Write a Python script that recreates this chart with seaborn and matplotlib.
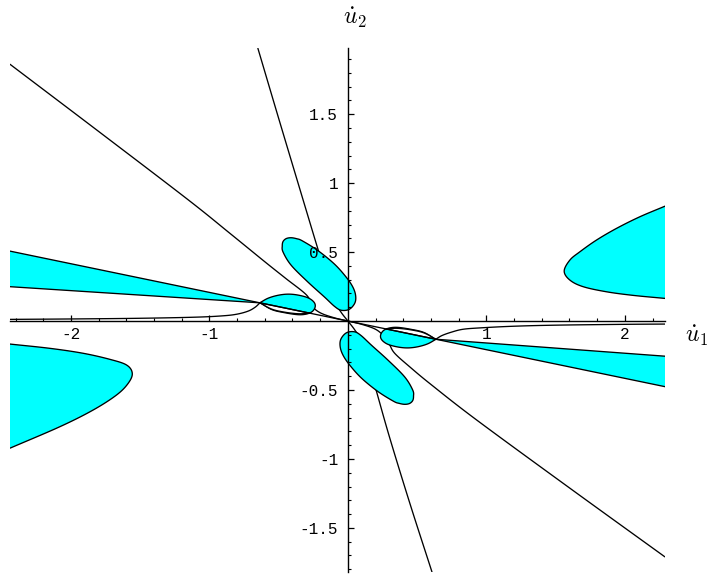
import numpy as np
import matplotlib
matplotlib.use("Agg")
import matplotlib.pyplot as plt
import seaborn as sns

sns.set_theme(style="white")
plt.rcParams['font.family'] = ['Liberation Mono', 'DejaVu Sans']
plt.rcParams['mathtext.fontset'] = 'cm'

CYAN = "#00FFFF"

# ---------------- data ----------------
# upper-right parabola-like region
rp_x = [2.29, 2.108, 1.940, 1.795, 1.675, 1.603, 1.562, 1.603, 1.699, 1.868, 2.060, 2.29]
rp_y = [0.833, 0.756, 0.672, 0.587, 0.502, 0.442, 0.362, 0.297, 0.249, 0.212, 0.186, 0.164]
# lower-left parabola-like region
lp_x = [-2.44, -2.152, -1.911, -1.718, -1.598, -1.557, -1.586, -1.670, -1.839, -2.079, -2.44]
lp_y = [-0.167, -0.198, -0.234, -0.278, -0.319, -0.379, -0.451, -0.536, -0.645, -0.766, -0.922]

# upper ellipse-like lobe (closed)
ue_x = [-0.474, -0.468, -0.445, -0.410, -0.370, -0.330, -0.218, -0.098, -0.012, 0.036,
        0.056, 0.050, 0.010, -0.047, -0.095, -0.170, -0.290, -0.410, -0.468]
ue_y = [0.545, 0.577, 0.598, 0.604, 0.597, 0.582, 0.512, 0.414, 0.318, 0.246,
        0.184, 0.130, 0.085, 0.078, 0.105, 0.175, 0.284, 0.405, 0.500]
# lower ellipse-like lobe (closed)
le_x = [0.474, 0.468, 0.445, 0.410, 0.370, 0.330, 0.218, 0.098, 0.012, -0.036,
        -0.056, -0.050, -0.010, 0.047, 0.095, 0.170, 0.290, 0.410, 0.468]
le_y = [-0.545, -0.577, -0.598, -0.604, -0.597, -0.582, -0.512, -0.414, -0.318, -0.246,
        -0.184, -0.130, -0.085, -0.078, -0.105, -0.175, -0.284, -0.405, -0.500]

# long wedges
wl_x = [-2.44, -0.635, -2.44]
wl_y = [0.507, 0.132, 0.249]
wr_x = [2.29, 0.635, 2.29]
wr_y = [-0.476, -0.132, -0.255]

# small lobes (start and end at the pointed tip)
sl_x = [-0.635, -0.575, -0.503, -0.431, -0.359, -0.287, -0.245, -0.236, -0.256, -0.298,
        -0.359, -0.455, -0.549, -0.635]
sl_y = [0.133, 0.166, 0.187, 0.195, 0.188, 0.168, 0.137, 0.104, 0.070, 0.051,
        0.046, 0.060, 0.083, 0.133]
sr_x = [0.635, 0.575, 0.503, 0.431, 0.359, 0.287, 0.245, 0.236, 0.256, 0.298,
        0.359, 0.455, 0.549, 0.635]
sr_y = [-0.133, -0.166, -0.187, -0.195, -0.188, -0.168, -0.137, -0.104, -0.070, -0.051,
        -0.046, -0.060, -0.083, -0.133]

# white lenses inside the small lobes (lower edge, right corner back to tip)
nl_x = [-0.274, -0.30, -0.361, -0.455, -0.549, -0.635]
nl_y = [0.057, 0.055, 0.053, 0.064, 0.086, 0.132]
nr_x = [0.274, 0.30, 0.361, 0.455, 0.549, 0.635]
nr_y = [-0.057, -0.055, -0.053, -0.064, -0.086, -0.132]

# curves
l_x = [-2.44, 2.29]
l_y = [0.507, -0.476]
bl_x = [-2.44, -0.635]
bl_y = [0.249, 0.132]
br_x = [2.29, 0.635]
br_y = [-0.255, -0.132]
cl_x = [-2.44, -2.0, -1.5, -1.1, -0.9, -0.8, -0.72, -0.67, -0.635]
cl_y = [0.012, 0.015, 0.02, 0.028, 0.038, 0.05, 0.072, 0.1, 0.132]
cr_x = [2.29, 2.0, 1.5, 1.19, 0.95, 0.83, 0.75, 0.68, 0.635]
cr_y = [-0.022, -0.024, -0.03, -0.038, -0.05, -0.06, -0.08, -0.105, -0.132]
su_x = [-0.650, -0.5, -0.323, -0.214, -0.15, -0.1, -0.05, 0.0]
su_y = [1.978, 1.47, 0.877, 0.514, 0.31, 0.15, 0.065, 0.0]
sd_x = [0.607, 0.45, 0.303, 0.207, 0.15, 0.1, 0.05, 0.0]
sd_y = [-1.819, -1.33, -0.850, -0.512, -0.31, -0.15, -0.065, 0.0]
du_x = [-2.44, -1.8, -1.157, -0.852, -0.6, -0.45, -0.298, -0.26, -0.2, -0.1, 0.0]
du_y = [1.862, 1.375, 0.882, 0.636, 0.43, 0.31, 0.188, 0.11, 0.06, 0.024, 0.0]
dd_x = [2.289, 1.6, 0.929, 0.6, 0.45, 0.339, 0.30, 0.26, 0.2, 0.1, 0.0]
dd_y = [-1.710, -1.21, -0.717, -0.46, -0.335, -0.235, -0.17, -0.11, -0.06, -0.024, 0.0]

x_major = [-2, -1, 1, 2]
x_labels = ["-2", "-1", "1", "2"]
y_major = [-1.5, -1, -0.5, 0.5, 1, 1.5]
y_labels = ["-1.5", "-1", "-0.5", "0.5", "1", "1.5"]


def smooth(xs, ys, n=10, closed=False):
    """Catmull-Rom rendering of a curve through the given points."""
    P = np.column_stack([xs, ys]).astype(float)
    if closed:
        pts = np.vstack([P[-1], P, P[0], P[1]])
    else:
        pts = np.vstack([2 * P[0] - P[1], P, 2 * P[-1] - P[-2]])
    out = []
    t = np.linspace(0, 1, n, endpoint=False)[:, None]
    for i in range(1, len(pts) - 2):
        p0, p1, p2, p3 = pts[i - 1], pts[i], pts[i + 1], pts[i + 2]
        seg = 0.5 * ((2 * p1) + (-p0 + p2) * t + (2 * p0 - 5 * p1 + 4 * p2 - p3) * t ** 2
                     + (-p0 + 3 * p1 - 3 * p2 + p3) * t ** 3)
        out.append(seg)
    out.append(pts[-2][None])
    Q = np.vstack(out)
    return Q[:, 0], Q[:, 1]


# ---------------- figure ----------------
fig = plt.figure(figsize=(7.09, 5.74), dpi=100)
ax = fig.add_axes([10 / 709, 2 / 574, 655 / 709, 524 / 574])
ax.set_xlim(-2.44, 2.29)
ax.set_ylim(-1.82, 1.98)

lw = 0.95


def line(xs, ys, z, sm=True):
    if sm and len(xs) > 2:
        xs, ys = smooth(xs, ys)
    sns.lineplot(x=xs, y=ys, ax=ax, color="black", lw=lw, sort=False,
                 estimator=None, zorder=z, legend=False)


# background curves (hidden under fills)
line(su_x, su_y, 1)
line(sd_x, sd_y, 1)
line(du_x, du_y, 1)
line(dd_x, dd_y, 1)

# open regions (cut by the frame)
for xs, ys, sm in [(rp_x, rp_y, True), (lp_x, lp_y, True), (wl_x, wl_y, False), (wr_x, wr_y, False)]:
    if sm:
        xs, ys = smooth(xs, ys)
    ax.fill(xs, ys, color=CYAN, lw=0, zorder=2)
line(rp_x, rp_y, 3)
line(lp_x, lp_y, 3)
line(bl_x, bl_y, 3)
line(br_x, br_y, 3)

# closed lobes
for xs, ys in [(ue_x, ue_y), (le_x, le_y)]:
    sx, sy = smooth(xs, ys, closed=True)
    ax.fill(sx, sy, facecolor=CYAN, edgecolor="black", lw=lw, zorder=2.5)
for xs, ys in [(sl_x, sl_y), (sr_x, sr_y)]:
    sx, sy = smooth(xs, ys)
    ax.fill(sx, sy, facecolor=CYAN, edgecolor="black", lw=lw, zorder=2.5)
for xs, ys in [(nl_x, nl_y), (nr_x, nr_y)]:
    sx, sy = smooth(xs, ys)
    ax.fill(sx, sy, facecolor="white", edgecolor="black", lw=lw, zorder=3)

line(l_x, l_y, 3.5)
line(cl_x, cl_y, 3.5)
line(cr_x, cr_y, 3.5)

# axes through the origin, drawn above the regions
for s in ["top", "right"]:
    ax.spines[s].set_visible(False)
ax.spines["left"].set_position("zero")
ax.spines["bottom"].set_position("zero")
for s in ["left", "bottom"]:
    ax.spines[s].set_color("black")
    ax.spines[s].set_linewidth(1.0)
    ax.spines[s].set_zorder(5)
ax.xaxis.set_zorder(6)
ax.yaxis.set_zorder(6)
ax.set_xticks(x_major)
ax.set_xticklabels(x_labels)
ax.set_yticks(y_major)
ax.set_yticklabels(y_labels)
xm = [v for v in np.round(np.arange(-2.4, 2.3, 0.2), 2) if abs(v) > 1e-9]
ym = [v for v in np.round(np.arange(-1.8, 2.0, 0.1), 2) if abs(v) > 1e-9]
ax.set_xticks(xm, minor=True)
ax.set_yticks(ym, minor=True)
ax.tick_params(which="both", bottom=True, left=True, top=False, right=False)
ax.tick_params(axis="both", which="major", direction="in", length=4.5, width=0.9,
               color="black", labelsize=11.5, labelcolor="black")
ax.tick_params(axis="both", which="minor", direction="in", length=2.5, width=0.8,
               color="black")
ax.tick_params(axis="x", which="major", pad=4)
ax.tick_params(axis="y", which="major", pad=7)
ax.grid(False)
ax.set_facecolor("white")
ax.set_xlabel("")
ax.set_ylabel("")

fig.text(355 / 709, 1 - 18 / 574, r"$\dot{u}_2$", ha="center", va="center",
         fontsize=17, color="black")
fig.text(697 / 709, 1 - 336 / 574, r"$\dot{u}_1$", ha="center", va="center",
         fontsize=17, color="black")

fig.savefig("out.png", dpi=100, facecolor="white")
